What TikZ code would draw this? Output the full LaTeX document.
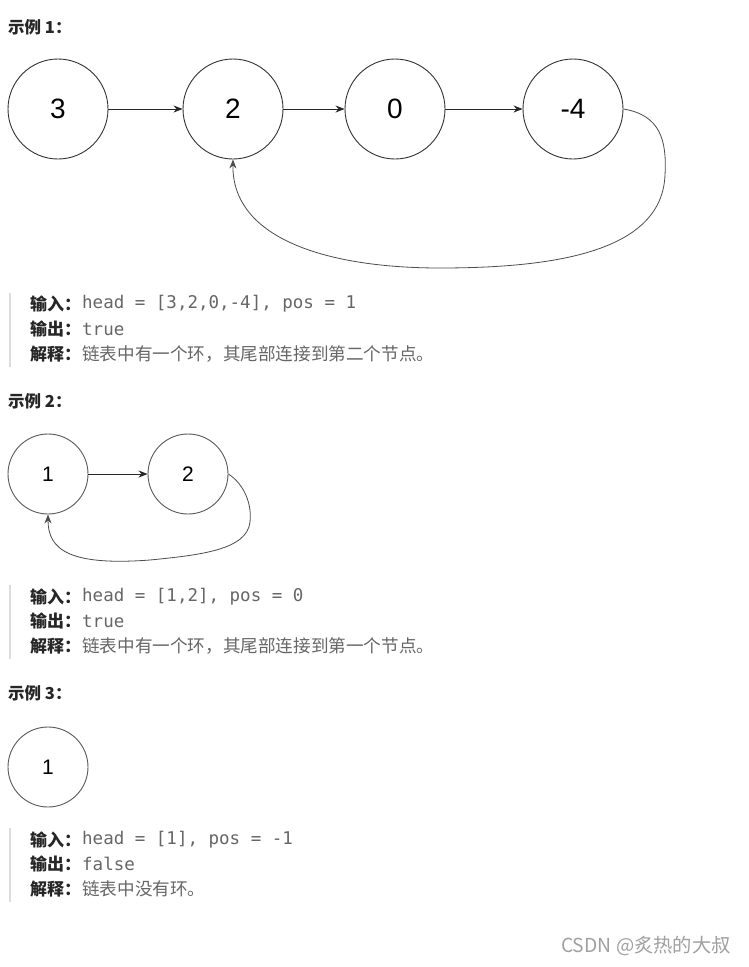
\documentclass[tikz,border=0pt]{standalone}
\usepackage{fontspec}
\setmainfont{Liberation Sans}
\newfontfamily\cjk{Noto Sans CJK SC}
\newfontfamily\monof{DejaVu Sans Mono}
\newfontfamily\digitf{Liberation Sans}
\usetikzlibrary{arrows.meta}
\definecolor{txtgray}{HTML}{666666}
\definecolor{labdark}{HTML}{262626}
\definecolor{barcol}{HTML}{DDDDDD}
\definecolor{wm}{HTML}{A0A0A0}
\begin{document}
\begin{tikzpicture}[x=1pt,y=-1pt,
  bignode/.style={circle,draw=black!80,line width=0.9pt,minimum size=100pt,inner sep=0pt,font=\digitf\fontsize{28}{28}\selectfont},
  smallnode/.style={circle,draw=black!65,line width=0.9pt,minimum size=80pt,inner sep=0pt,font=\digitf\fontsize{21}{21}\selectfont},
  arr/.style={-{Stealth[length=9pt,width=7pt]},line width=0.9pt,black!85},
  loopline/.style={-{Stealth[length=9pt,width=7pt]},line width=0.8pt,black!70},
  heading/.style={anchor=west,inner sep=0pt,font=\cjk\bfseries\fontsize{16.5}{16.5}\selectfont,text=labdark},
  lab/.style={anchor=west,inner sep=0pt,font=\cjk\bfseries\fontsize{17}{17}\selectfont,text=labdark},
  code/.style={anchor=west,inner sep=0pt,font=\monof\fontsize{17.5}{17.5}\selectfont,text=txtgray},
  expl/.style={anchor=west,inner sep=0pt,font=\cjk\fontsize{17.6}{17.6}\selectfont,text=txtgray},
  bar/.style={barcol,line width=2pt}]
\useasboundingbox[fill=white] (0,0) rectangle (748,967);

% Example 1
\node[heading] (h1) at (8,27) {示例 1：};
\node[bignode] (a3) at (58,109) {3};
\node[bignode] (a2) at (233,109) {2};
\node[bignode] (a0) at (395,109) {0};
\node[bignode] (a4) at (573,109) {-4};
\draw[arr] (a3) -- (a2);
\draw[arr] (a2) -- (a0);
\draw[arr] (a0) -- (a4);
\draw[loopline] (a4.east) .. controls (660,115) and (667,140) .. (665,175)
  .. controls (662,250) and (560,268) .. (440,268)
  .. controls (330,268) and (232,240) .. (a2.south);

\coordinate (b1t) at (10,293);
\coordinate (b1b) at (10,367);
\draw[bar] (b1t) -- (b1b);
\node[lab] (l11) at (30,304) {输入：};
\node[code] (c11) at (82,304) {head = [3,2,0,-4], pos = 1};
\node[lab] (l12) at (30,329) {输出：};
\node[code] (c12) at (82,329) {true};
\node[lab] (l13) at (30,354) {解释：};
\node[expl] (c13) at (82,354) {链表中有一个环，其尾部连接到第二个节点。};

% Example 2
\node[heading] (h2) at (8,401) {示例 2：};
\node[smallnode] (b1) at (48,474) {1};
\node[smallnode] (b2) at (188,474) {2};
\draw[arr] (b1) -- (b2);
\draw[loopline] (b2.east) .. controls (245,485) and (252,505) .. (250,522)
  .. controls (247,550) and (200,555) .. (150,560)
  .. controls (70,566) and (48,550) .. (b1.south);

\coordinate (b2t) at (10,585);
\coordinate (b2b) at (10,659);
\draw[bar] (b2t) -- (b2b);
\node[lab] (l21) at (30,597) {输入：};
\node[code] (c21) at (82,597) {head = [1,2], pos = 0};
\node[lab] (l22) at (30,621) {输出：};
\node[code] (c22) at (82,621) {true};
\node[lab] (l23) at (30,646) {解释：};
\node[expl] (c23) at (82,646) {链表中有一个环，其尾部连接到第一个节点。};

% Example 3
\node[heading] (h3) at (8,693) {示例 3：};
\node[smallnode] (c1) at (48,767) {1};

\coordinate (b3t) at (10,828);
\coordinate (b3b) at (10,902);
\draw[bar] (b3t) -- (b3b);
\node[lab] (l31) at (30,840) {输入：};
\node[code] (c31) at (82,840) {head = [1], pos = -1};
\node[lab] (l32) at (30,864) {输出：};
\node[code] (c32) at (82,864) {false};
\node[lab] (l33) at (30,889) {解释：};
\node[expl] (c33) at (82,889) {链表中没有环。};

\node[anchor=west,inner sep=0pt,font=\cjk\fontsize{19.3}{19.3}\selectfont,text=wm] (wmk) at (561,946) {CSDN @炙热的大叔};
\end{tikzpicture}
\end{document}
